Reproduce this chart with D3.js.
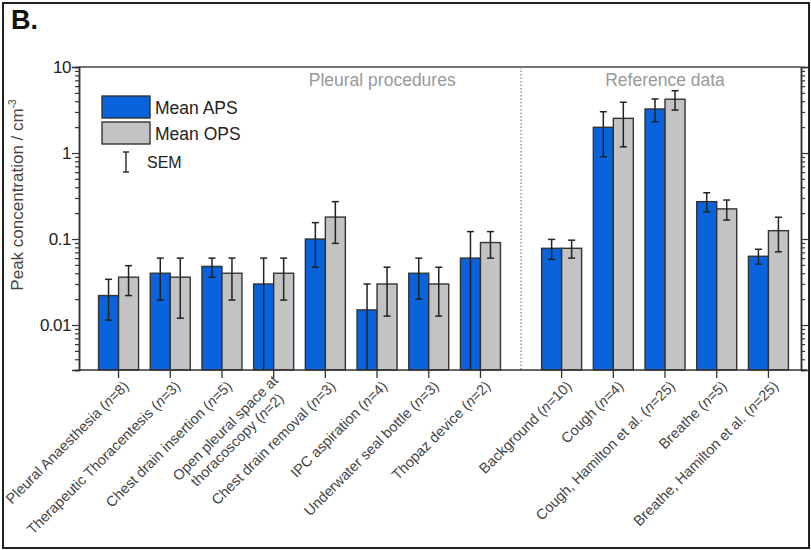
<!DOCTYPE html>
<html>
<head>
<meta charset="utf-8">
<script src="https://cdn.jsdelivr.net/npm/d3@7"></script>
<style>
  body { margin: 0; background: #fff; }
  svg { display: block; font-family: "Liberation Sans", Arial, sans-serif; }
</style>
</head>
<body>
<div id="chart"></div>
<script>
// categories (label lines), group section and n
const labels = [
  ['Pleural Anaesthesia'], ['Therapeutic Thoracentesis'], ['Chest drain insertion'],
  ['Open pleural space at', 'thoracoscopy'], ['Chest drain removal'], ['IPC aspiration'],
  ['Underwater seal bottle'], ['Thopaz device'],
  ['Background'], ['Cough'], ['Cough, Hamilton et al.'], ['Breathe'], ['Breathe, Hamilton et al.']
];
const sections = ['P', 'P', 'P', 'P', 'P', 'P', 'P', 'P', 'R', 'R', 'R', 'R', 'R'];
const nValues = [8, 3, 5, 2, 3, 4, 3, 2, 10, 4, 25, 5, 25];

// mean APS with SEM range (0 = below the axis)
const apsMean = [0.022, 0.040, 0.048, 0.030, 0.100, 0.015, 0.040, 0.060, 0.078, 1.99, 3.25, 0.272, 0.063];
const apsHigh = [0.034, 0.060, 0.060, 0.060, 0.155, 0.030, 0.060, 0.122, 0.099, 3.02, 4.25, 0.345, 0.076];
const apsLow  = [0.0114, 0.0195, 0.036, 0, 0.047, 0, 0.020, 0, 0.058, 0.906, 2.31, 0.207, 0.051];

// mean OPS with SEM range
const opsMean = [0.036, 0.036, 0.040, 0.040, 0.18, 0.030, 0.030, 0.091, 0.078, 2.53, 4.22, 0.224, 0.125];
const opsHigh = [0.049, 0.060, 0.060, 0.060, 0.272, 0.047, 0.047, 0.122, 0.097, 3.89, 5.30, 0.284, 0.179];
const opsLow  = [0.022, 0.012, 0.0195, 0.0195, 0.089, 0.0127, 0.0127, 0.060, 0.060, 1.18, 3.16, 0.166, 0.071];

const majorTicks = [0.01, 0.1, 1, 10];

const width = 811, height = 550;
const svg = d3.select('#chart').append('svg')
  .attr('width', width)
  .attr('height', height);

// outer frame
svg.append('rect')
  .attr('x', 3).attr('y', 3)
  .attr('width', 806).attr('height', 545)
  .attr('fill', 'none')
  .attr('stroke', '#222')
  .attr('stroke-width', 2);

svg.append('text')
  .attr('x', 11).attr('y', 29)
  .attr('font-size', 27)
  .attr('font-weight', 'bold')
  .attr('fill', '#111')
  .text('B.');

const plotL = 79, plotR = 801, plotT = 67, plotB = 370;
const gap = 0.57;
const slots = sections.map((s, i) => i + (s === 'R' ? gap : 0));

const x = d3.scaleLinear().domain([-0.765, 12 + gap + 0.63]).range([plotL, plotR]);
const y = d3.scaleLog().domain([0.003, 10]).range([plotB, plotT]);
const barW = 20;

const yPos = v => (v > 0 ? y(v) : plotB);

// top border
svg.append('line')
  .attr('x1', plotL).attr('x2', plotR)
  .attr('y1', plotT).attr('y2', plotT)
  .attr('stroke', '#444').attr('stroke-width', 1.5);

// divider between sections
svg.append('line')
  .attr('x1', x(7.5 + gap / 2)).attr('x2', x(7.5 + gap / 2))
  .attr('y1', plotT).attr('y2', plotB)
  .attr('stroke', '#888')
  .attr('stroke-width', 1.3)
  .attr('stroke-dasharray', '1.5,2');

svg.append('text')
  .attr('x', x(5.1)).attr('y', 86)
  .attr('text-anchor', 'middle')
  .attr('font-size', 17.5)
  .attr('fill', '#999')
  .text('Pleural procedures');

svg.append('text')
  .attr('x', x(10 + gap)).attr('y', 86)
  .attr('text-anchor', 'middle')
  .attr('font-size', 17.5)
  .attr('fill', '#999')
  .text('Reference data');

// bars
const series = [
  { mean: apsMean, low: apsLow, high: apsHigh, fill: '#0863dc', off: -barW / 2 },
  { mean: opsMean, low: opsLow, high: opsHigh, fill: '#c3c3c3', off: barW / 2 }
];

series.forEach(s => {
  const g = svg.append('g');
  g.selectAll('rect')
    .data(s.mean)
    .join('rect')
    .attr('x', (d, i) => x(slots[i]) + s.off - barW / 2)
    .attr('y', d => y(d))
    .attr('width', barW)
    .attr('height', d => plotB - y(d))
    .attr('fill', s.fill)
    .attr('stroke', '#333')
    .attr('stroke-width', 1.4);
});

series.forEach(s => {
  const g = svg.append('g').attr('stroke', '#222').attr('stroke-width', 1.5);
  s.mean.forEach((d, i) => {
    const cx = x(slots[i]) + s.off;
    g.append('line')
      .attr('x1', cx).attr('x2', cx)
      .attr('y1', y(s.high[i])).attr('y2', yPos(s.low[i]));
    g.append('line')
      .attr('x1', cx - 3.5).attr('x2', cx + 3.5)
      .attr('y1', y(s.high[i])).attr('y2', y(s.high[i]));
    if (s.low[i] > 0) {
      g.append('line')
        .attr('x1', cx - 3.5).attr('x2', cx + 3.5)
        .attr('y1', y(s.low[i])).attr('y2', y(s.low[i]));
    }
  });
});

// y axes (left with labels, right with outward ticks)
const minor = y.ticks().filter(t => !majorTicks.includes(t));

const yLeft = svg.append('g').attr('transform', `translate(${plotL},0)`);
yLeft.call(d3.axisLeft(y).tickValues(majorTicks).tickSize(7).tickPadding(1)
  .tickFormat(d => d3.format('~g')(d)));
yLeft.call(g => g.append('g').call(d3.axisLeft(y).tickValues(minor).tickSize(4).tickFormat('')));

const yRight = svg.append('g').attr('transform', `translate(${plotR},0)`);
yRight.call(d3.axisRight(y).tickValues(majorTicks).tickSize(7).tickFormat(''));
yRight.call(g => g.append('g').call(d3.axisRight(y).tickValues(minor).tickSize(4).tickFormat('')));

svg.selectAll('.domain').attr('stroke', '#333').attr('stroke-width', 1.5);
svg.selectAll('.tick line').attr('stroke', '#333').attr('stroke-width', 1.2);
yLeft.selectAll('.tick text')
  .attr('font-size', 17)
  .attr('fill', '#222')
  .attr('font-family', '"Liberation Sans", Arial, sans-serif')
  .attr('letter-spacing', -0.5);

// x axis
const xAxis = svg.append('g');
xAxis.append('line')
  .attr('x1', plotL).attr('x2', plotR + 6)
  .attr('y1', plotB).attr('y2', plotB)
  .attr('stroke', '#333').attr('stroke-width', 1.5);
xAxis.selectAll('line.tk')
  .data(slots)
  .join('line')
  .attr('class', 'tk')
  .attr('x1', d => x(d)).attr('x2', d => x(d))
  .attr('y1', plotB).attr('y2', plotB + 8)
  .attr('stroke', '#333').attr('stroke-width', 1.3);

const lab = xAxis.selectAll('text.lab')
  .data(labels)
  .join('text')
  .attr('class', 'lab')
  .attr('text-anchor', 'end')
  .attr('font-size', 14.5)
  .attr('fill', '#444')
  .attr('transform', (d, i) => `translate(${x(slots[i]) + 11},${plotB + 17}) rotate(-45)`);

lab.each(function(lines, i) {
  const t = d3.select(this);
  const rows = lines.map((line, k) => {
    const last = k === lines.length - 1;
    const row = t.append('tspan')
      .attr('x', 0)
      .attr('dy', k === 0 ? (lines.length > 1 ? '-0.55em' : '0') : '1.15em')
      .text(last ? line + ' (' : line);
    const parts = [row];
    if (last) {
      parts.push(t.append('tspan').attr('font-style', 'italic').text('n'));
      parts.push(t.append('tspan').text('=' + nValues[i] + ')'));
    }
    return parts;
  });
  if (rows.length > 1) {
    // centre the lines of a wrapped label within its block
    const widths = rows.map(p => d3.sum(p, s => s.node().getComputedTextLength()));
    const maxW = d3.max(widths);
    rows.forEach((p, k) => p[0].attr('x', -(maxW - widths[k]) / 2));
  }
});

// y label
svg.append('text')
  .attr('transform', 'translate(23,195) rotate(-90)')
  .attr('text-anchor', 'middle')
  .attr('font-size', 17)
  .attr('fill', '#444')
  .text('Peak concentration / cm')
  .append('tspan')
  .attr('font-size', 10)
  .attr('dy', -7)
  .text('-3');

// legend
const legend = svg.append('g');
const legItems = [{ label: 'Mean APS', fill: '#0863dc' }, { label: 'Mean OPS', fill: '#c3c3c3' }];
legItems.forEach((d, i) => {
  legend.append('rect')
    .attr('x', 102).attr('y', 96 + i * 26)
    .attr('width', 48).attr('height', 22)
    .attr('fill', d.fill)
    .attr('stroke', '#333').attr('stroke-width', 1.4);
  legend.append('text')
    .attr('x', 155).attr('y', 114 + i * 26)
    .attr('font-size', 17.5)
    .attr('fill', '#222')
    .text(d.label);
});
const semG = legend.append('g').attr('stroke', '#333').attr('stroke-width', 1.5);
semG.append('line').attr('x1', 126).attr('x2', 126).attr('y1', 152).attr('y2', 172);
semG.append('line').attr('x1', 123).attr('x2', 129).attr('y1', 152).attr('y2', 152);
semG.append('line').attr('x1', 123).attr('x2', 129).attr('y1', 172).attr('y2', 172);
legend.append('text')
  .attr('x', 147).attr('y', 168)
  .attr('font-size', 16)
  .attr('fill', '#222')
  .text('SEM');
</script>
</body>
</html>
